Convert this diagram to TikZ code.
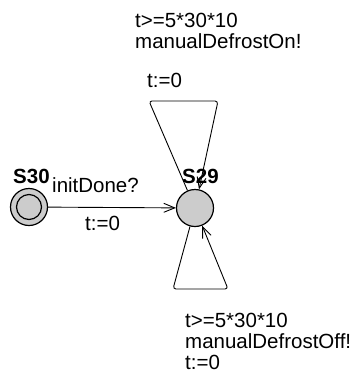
\documentclass[tikz,border=0pt]{standalone}
\usepackage{fontspec}
\setmainfont{Liberation Sans}
\usetikzlibrary{arrows.meta}
\definecolor{locfill}{gray}{0.8}
\tikzset{
  location/.style={circle, draw=black, line width=1.2bp, fill=locfill,
                   minimum size=37bp, inner sep=0pt},
  initloc/.style={location, double=locfill, double distance=4.5bp,
                  minimum size=37bp},
  locname/.style={anchor=base west, inner sep=0pt,
                  font=\fontsize{20.5bp}{21bp}\selectfont\bfseries},
  edgelabel/.style={anchor=base west, inner sep=0pt,
                    font=\fontsize{20.5bp}{21bp}\selectfont},
  edge/.style={draw=black, line width=0.9bp, rounded corners=3bp,
               -{Straight Barb[length=11bp,width=9bp,line width=0.9bp]}}
}
\begin{document}
\begin{tikzpicture}[x=1bp,y=-1bp]
  \useasboundingbox (0,0) rectangle (354,372);

  % locations
  \node[location] (S30) at (29,207) {};
  \node[circle, draw=black, line width=1.2bp, minimum size=25bp, inner sep=0pt] (S30in) at (S30) {};
  \node[location] (S29) at (195,208) {};
  \node[locname] (S30name) at (13,183) {S30};
  \node[locname] (S29name) at (182,183) {S29};

  % loop corner points
  \coordinate (topL) at (149,101);
  \coordinate (topR) at (218,101);
  \coordinate (botL) at (173,289);
  \coordinate (botR) at (228,289);

  % edges
  \draw[edge] (S30) -- (S29);
  \draw[edge] (S29) -- (topL) -- (topR) -- (S29);
  \draw[edge] (S29) -- (botL) -- (botR) -- (S29);

  % edge labels: S30 -> S29
  \node[edgelabel] (sync1) at (52,192) {initDone?};
  \node[edgelabel] (reset1) at (85,230) {t:=0};

  % edge labels: upper self-loop
  \node[edgelabel] (guard2) at (135,27) {t>=5*30*10};
  \node[edgelabel] (sync2) at (135,48) {manualDefrostOn!};
  \node[edgelabel] (reset2) at (147,87) {t:=0};

  % edge labels: lower self-loop
  \node[edgelabel] (guard3) at (185,327) {t>=5*30*10};
  \node[edgelabel] (sync3) at (185,348) {manualDefrostOff!};
  \node[edgelabel] (reset3) at (185,369) {t:=0};
\end{tikzpicture}
\end{document}
